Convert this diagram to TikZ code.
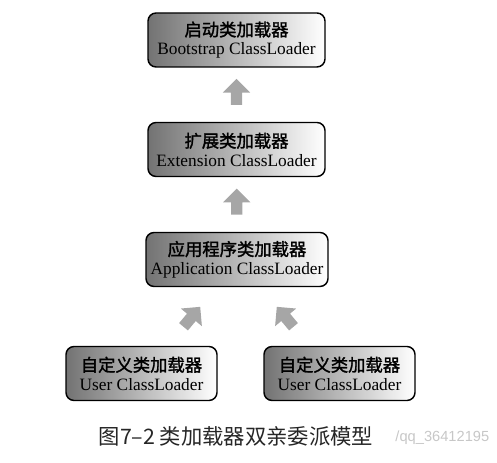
\documentclass[tikz,border=0pt]{standalone}
\usepackage{fontspec}
\setmainfont{Liberation Serif}
\newfontfamily\cjk{Noto Sans CJK SC}
\newfontfamily\cjkbold{Noto Sans CJK SC}[FakeBold = 1.6]
\newfontfamily\markfont{Liberation Sans}
\usetikzlibrary{positioning, shapes.arrows, calc}

\begin{document}
\begin{tikzpicture}[x = 0.75pt, y = -0.75pt,
	loader/.style = {draw, line width = 1.1pt, rounded corners = 6pt, left color = black!55, right color = white, align = center, font = \fontsize{13}{14}\selectfont, minimum height = 40.5pt, inner sep = 0pt},
	uparrow/.style = {single arrow, fill = black!35, draw = none, inner sep = 4.1pt, single arrow head extend = 6pt, single arrow head indent = 0pt, minimum height = 19.5pt}]

	\useasboundingbox (0, 0) rectangle (497, 463);

	% Loaders
	
	\node [loader, minimum width = 132.75pt] (boot) at (236.5, 40) {{\cjkbold 启动类加载器}\\Bootstrap ClassLoader};
	\node [loader, minimum width = 132.75pt] (ext) at (236.5, 149.5) {{\cjkbold 扩展类加载器}\\Extension ClassLoader};
	\node [loader, minimum width = 136.5pt] (app) at (237, 259.5) {{\cjkbold 应用程序类加载器}\\Application ClassLoader};
	
	\foreach \name/\x in {userA/141.5, userB/339.5}
		\node [loader, minimum width = 113.25pt] (\name) at (\x, 373.5) {{\cjkbold 自定义类加载器}\\User ClassLoader};
	
	% Arrows
	
	\node [uparrow, rotate = 90] (upA) at ($(ext.north)!0.5!(boot.south)$) {};
	\node [uparrow, rotate = 90] (upB) at ($(app.north)!0.5!(ext.south)$) {};
	\node [uparrow, rotate = 50] (upC) at (190, 319) {};
	\node [uparrow, rotate = 130] (upD) at (287, 319) {};
	
	% Caption
	
	\node [font = \markfont\fontsize{11}{13}\selectfont, text = black!22, anchor = east] (mark) at (494, 438) {/qq\_36412195};
	\node [font = \cjk\fontsize{16}{18}\selectfont, text = black!85] (caption) at (236, 436) {图7–2 类加载器双亲委派模型};

\end{tikzpicture}
\end{document}
